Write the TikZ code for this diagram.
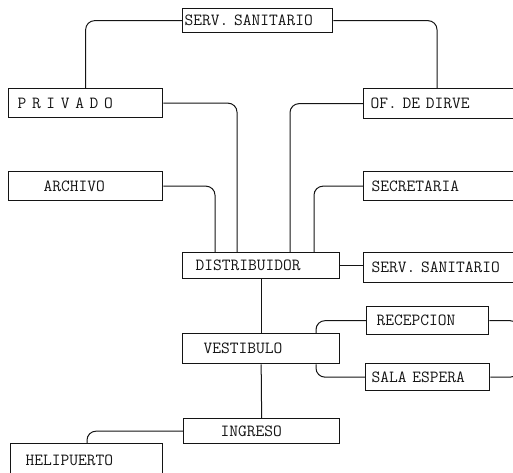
\documentclass[tikz,border=0pt]{standalone}
\usepackage{tikz}
\usetikzlibrary{positioning, calc}
\usepackage{xcolor}
\definecolor{inkcolor}{RGB}{20,20,20}
\tikzset{
    room/.style={rectangle, draw=inkcolor, line width=1.3pt, anchor=north west,
        align=left, inner xsep=2pt, inner ysep=0pt, text=inkcolor,
        font=\fontsize{17}{19}\selectfont\ttfamily},
    link/.style={draw=inkcolor, line width=1pt, rounded corners=9pt}
}

\begin{document}
\begin{tikzpicture}[x=1pt, y=-1pt]
    \useasboundingbox (0,0) rectangle (513,472);

    % upper rooms
    \node[room, text width=146pt, minimum height=24pt] (sanitop) at (182,8) {SERV. SANITARIO};
    \node[room, text width=150pt, minimum height=29pt] (privado) at (8,88) {\hspace*{7pt}P R I V A D O};
    \node[room, text width=155pt, minimum height=30pt] (dirve) at (363,88) {\hspace*{5pt}OF. DE DIRVE};
    \node[room, text width=150pt, minimum height=29pt] (archivo) at (8,171) {\hspace*{33pt}ARCHIVO};
    \node[room, text width=155pt, minimum height=29pt] (secret) at (363,171) {\hspace*{6pt}SECRETARIA};

    % central axis
    \node[room, text width=153pt, minimum height=26pt] (distrib) at (182,252) {\hspace*{11pt}DISTRIBUIDOR};
    \node[room, text width=155pt, minimum height=30pt] (sanibath) at (363,252) {\hspace*{6pt}SERV. SANITARIO};
    \node[room, text width=118pt, minimum height=28pt] (recep) at (366,306) {\hspace*{8pt}RECEPCION};
    \node[room, text width=153pt, minimum height=30pt] (vestib) at (182,333) {\hspace*{19pt}VESTIBULO};
    \node[room, text width=120pt, minimum height=27pt] (sala) at (365,363) {\hspace*{4pt}SALA ESPERA};
    \node[room, text width=152pt, minimum height=25pt] (ingreso) at (183,418) {\hspace*{35pt}INGRESO};
    \node[room, text width=148pt, minimum height=34pt] (heli) at (10,443) {\hspace*{13pt}HELIPUERTO};

    \coordinate (edgeturn) at (519,350);

    \draw[link] (sanitop.west) -| (privado.north);
    \draw[link] (sanitop.east) -| ([xshift=74pt]dirve.north west);
    \draw[link] (privado.east) -| ([xshift=55pt]distrib.north west);
    \draw[link] (dirve.west) -| ([xshift=108pt]distrib.north west);
    \draw[link] (archivo.east) -| ([xshift=33pt]distrib.north west);
    \draw[link] (secret.west) -| ([xshift=132pt]distrib.north west);
    \draw[link] (distrib.east) -- (distrib.east -| sanibath.west);
    \draw[link] (distrib.south) -- (vestib.north);
    \draw[link] (recep.west) -| ([xshift=134pt]vestib.north west);
    \draw[link] (sala.west) -| ([xshift=134pt]vestib.south west);
    \draw[link] (recep.east) -| (edgeturn) |- (sala.east);
    \draw[link] (vestib.south) -- (ingreso.north);
    \draw[link] (ingreso.west) -| ([xshift=77pt]heli.north west);

\end{tikzpicture}
\end{document}
